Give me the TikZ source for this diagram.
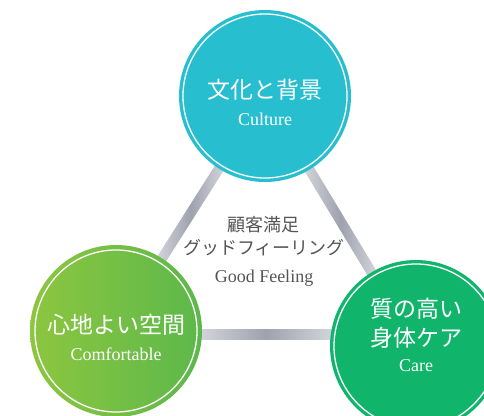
\documentclass[tikz,border=0pt]{standalone}
\usepackage{fontspec}
\setmainfont{Liberation Serif}
\newfontfamily\jpfont{Noto Sans CJK JP}
\usetikzlibrary{calc}
\pgfdeclarelayer{back}
\pgfdeclarelayer{bg}
\pgfsetlayers{back,bg,main}
\definecolor{cultureC}{HTML}{27BFD0}
\definecolor{comfL}{HTML}{8DC63F}
\definecolor{comfR}{HTML}{5CB84B}
\definecolor{careC}{HTML}{10B46A}
\definecolor{barL}{HTML}{D3D4DB}
\definecolor{barM}{HTML}{9FA2AE}
\definecolor{txtgray}{HTML}{555555}
\begin{document}
\begin{tikzpicture}[x=1pt,y=-1pt,
  bigcircle/.style={circle, minimum size=172pt, inner sep=0pt},
  ring/.style={draw=white, line width=1.3pt},
  head/.style={text=white, font=\jpfont\fontsize{23}{26}\selectfont, inner sep=0pt},
  sub/.style={text=white, font=\fontsize{18}{20}\selectfont, inner sep=0pt},
  mid/.style={text=txtgray, font=\jpfont\fontsize{18}{20}\selectfont, inner sep=0pt},
  bar/.style={left color=barL, right color=barL, middle color=barM},
]
\path[use as bounding box, clip] (0,0) rectangle (484,415);
\begin{pgfonlayer}{back}
\fill[white] (0,0) rectangle (484,415);
\end{pgfonlayer}

% circles
\node[bigcircle, fill=cultureC] (culture) at (265,96) {};
\draw[ring] (culture.center) circle (82pt);
\node[head] (cultureT) at (265,90) {文化と背景};
\node[sub] (cultureS) at (265,119) {Culture};

\node[bigcircle, left color=comfL, right color=comfR] (comfort) at (116,331) {};
\draw[ring] (comfort.center) circle (81pt);
\node[head] (comfortT) at (116,325) {心地よい空間};
\node[sub] (comfortS) at (116,354) {Comfortable};

\node[bigcircle, fill=careC] (care) at (416,346) {};
\draw[ring] (care.center) circle (82pt);
\node[head] (careT1) at (416,309) {質の高い};
\node[head] (careT2) at (416,338) {身体ケア};
\node[sub] (careS) at (416,366) {Care};

% centre text
\node[mid] (m1) at (263,225) {顧客満足};
\node[mid] (m2) at (264,248) {グッドフィーリング};
\node[sub, text=txtgray] (m3) at (264,278) {Good Feeling};

% connectors
\begin{pgfonlayer}{bg}
\coordinate (a1) at ($(culture.center)!84pt!(comfort.center)$);
\coordinate (b1) at ($(comfort.center)!84pt!(culture.center)$);
\shade[bar] ($(a1)!5pt!90:(b1)$) -- ($(a1)!5pt!-90:(b1)$) -- ($(b1)!5pt!90:(a1)$) -- ($(b1)!5pt!-90:(a1)$) -- cycle;
\coordinate (a2) at ($(culture.center)!84pt!(care.center)$);
\coordinate (b2) at ($(care.center)!84pt!(culture.center)$);
\shade[bar] ($(a2)!5pt!90:(b2)$) -- ($(a2)!5pt!-90:(b2)$) -- ($(b2)!5pt!90:(a2)$) -- ($(b2)!5pt!-90:(a2)$) -- cycle;
\coordinate (a3) at ($(comfort.center)+(84,3)$);
\coordinate (b3) at ($(care.center)+(-84,-12)$);
\shade[bar] ($(a3)+(0,-5)$) rectangle ($(b3)+(0,5)$);
\end{pgfonlayer}
\end{tikzpicture}
\end{document}
